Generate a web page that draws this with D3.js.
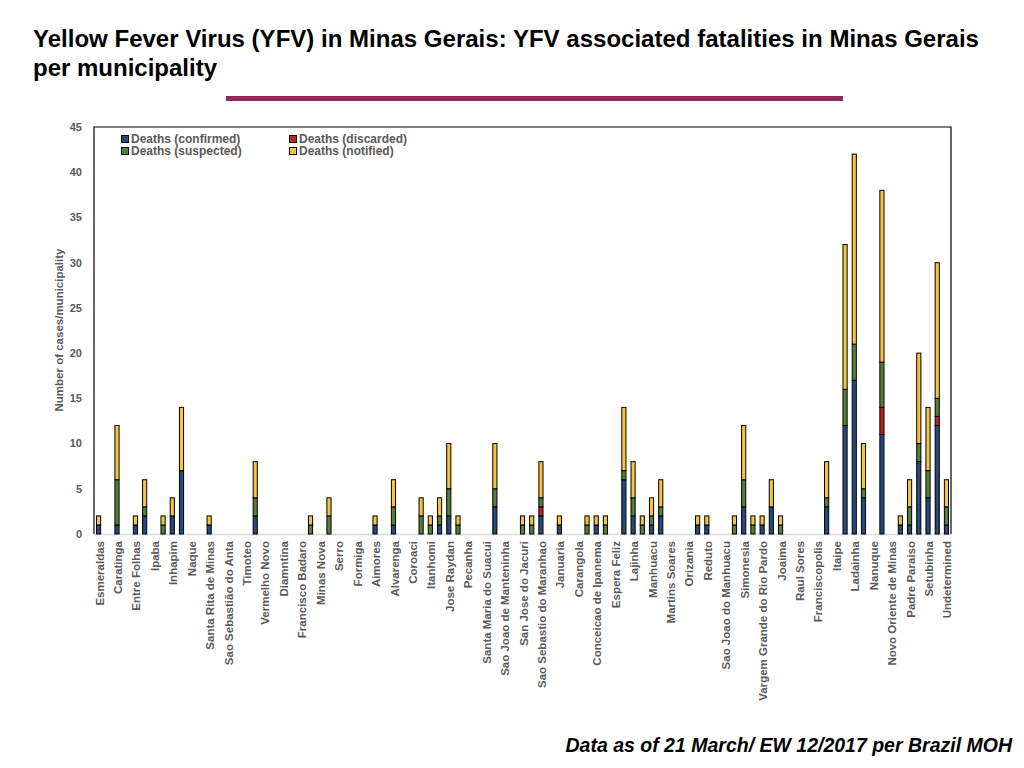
<!DOCTYPE html>
<meta charset="utf-8">

<style>

* {
	margin: 0;
	padding: 0;
}

body {
	background: #fff;
	font-family: "Liberation Sans", Arial, sans-serif;
}

.title {
	font-size: 24px;
	font-weight: bold;
	fill: #000;
}

.footer {
	font-size: 19.5px;
	font-weight: bold;
	font-style: italic;
	fill: #000;
}

.tick-label, .cat-label, .legend-text, .axis-title {
	font-weight: bold;
	fill: #595959;
}

.tick-label { font-size: 11px; }
.cat-label { font-size: 11.5px; }
.legend-text { font-size: 12px; }
.axis-title { font-size: 11.5px; }

.seg {
	stroke: #000;
	stroke-width: 1;
}

</style>

<body>

<script src="https://cdn.jsdelivr.net/npm/d3@7"></script>

<script>

// municipality names, only every other one is labelled on the axis
var categories = [
	"Esmeraldas", "", "Caratinga", "", "Entre Folhas", "", "Ipaba", "", "Inhapim", "",
	"Naque", "", "Santa Rita de Minas", "", "Sao Sebastião do Anta", "", "Timoteo", "", "Vermelho Novo", "",
	"Diamntina", "", "Francisco Badaro", "", "Minas Nova", "", "Serro", "", "Formiga", "",
	"Aimores", "", "Alvarenga", "", "Coroaci", "", "Itanhomi", "", "Jose Raydan", "",
	"Pecanha", "", "Santa Maria do Suacui", "", "Sao Joao de Manteninha", "", "San Jose do Jacuri", "", "Sao Sebastio do Maranhao", "",
	"Januaria", "", "Carangola", "", "Conceicao de Ipanema", "", "Espera Feliz", "", "Lajinha", "",
	"Manhuacu", "", "Martins Soares", "", "Orizania", "", "Reduto", "", "Sao Joao do Manhuacu", "",
	"Simonesia", "", "Vargem Grande do Rio Pardo", "", "Joaima", "", "Raul Sores", "", "Franciscopolis", "",
	"Itaipe", "", "Ladainha", "", "Nanuque", "", "Novo Oriente de Minas", "", "Padre Paraiso", "",
	"Setubinha", "", "Undetermined"
];

var confirmed = [
	1, 0, 1, 0, 1, 2, 0, 0, 2, 7,
	0, 0, 1, 0, 0, 0, 0, 2, 0, 0,
	0, 0, 0, 0, 0, 0, 0, 0, 0, 0,
	1, 0, 1, 0, 0, 0, 0, 1, 2, 0,
	0, 0, 0, 3, 0, 0, 0, 0, 2, 0,
	1, 0, 0, 0, 1, 0, 0, 6, 2, 0,
	1, 2, 0, 0, 0, 1, 1, 0, 0, 0,
	3, 0, 1, 3, 0, 0, 0, 0, 0, 3,
	0, 12, 17, 4, 0, 11, 0, 1, 1, 8,
	4, 12, 1
];

var discarded = [
	0, 0, 0, 0, 0, 0, 0, 0, 0, 0,
	0, 0, 0, 0, 0, 0, 0, 0, 0, 0,
	0, 0, 0, 0, 0, 0, 0, 0, 0, 0,
	0, 0, 0, 0, 0, 0, 0, 0, 0, 0,
	0, 0, 0, 0, 0, 0, 0, 0, 1, 0,
	0, 0, 0, 0, 0, 0, 0, 0, 0, 0,
	0, 0, 0, 0, 0, 0, 0, 0, 0, 0,
	0, 0, 0, 0, 0, 0, 0, 0, 0, 0,
	0, 0, 0, 0, 0, 3, 0, 0, 0, 0,
	0, 1, 0
];

var suspected = [
	0, 0, 5, 0, 0, 1, 0, 1, 0, 0,
	0, 0, 0, 0, 0, 0, 0, 2, 0, 0,
	0, 0, 0, 1, 0, 2, 0, 0, 0, 0,
	0, 0, 2, 0, 0, 2, 1, 1, 3, 1,
	0, 0, 0, 2, 0, 0, 1, 1, 1, 0,
	0, 0, 0, 1, 0, 1, 0, 1, 2, 1,
	1, 1, 0, 0, 0, 0, 0, 0, 0, 1,
	3, 1, 0, 0, 1, 0, 0, 0, 0, 1,
	0, 4, 4, 1, 0, 5, 0, 0, 2, 2,
	3, 2, 2
];

var notified = [
	1, 0, 6, 0, 1, 3, 0, 1, 2, 7,
	0, 0, 1, 0, 0, 0, 0, 4, 0, 0,
	0, 0, 0, 1, 0, 2, 0, 0, 0, 0,
	1, 0, 3, 0, 0, 2, 1, 2, 5, 1,
	0, 0, 0, 5, 0, 0, 1, 1, 4, 0,
	1, 0, 0, 1, 1, 1, 0, 7, 4, 1,
	2, 3, 0, 0, 0, 1, 1, 0, 0, 1,
	6, 1, 1, 3, 1, 0, 0, 0, 0, 4,
	0, 16, 21, 5, 0, 19, 0, 1, 3, 10,
	7, 15, 3
];

var seriesNames = ["Deaths (confirmed)", "Deaths (discarded)", "Deaths (suspected)", "Deaths (notified)"];
var seriesColors = ["#254a7b", "#c1231c", "#567f37", "#f6c444"];
var yTicks = [0, 5, 10, 15, 20, 25, 30, 35, 40, 45];

var width = 1024,
    height = 768,
    plotLeft = 94,
    plotRight = 951,
    plotTop = 127,
    plotBottom = 534;

var svg = d3.select("body").append("svg")
    .attr("width", width)
    .attr("height", height);

// title + divider + footer
svg.append("text")
    .attr("class", "title")
    .attr("x", 33)
    .attr("y", 47)
    .attr("textLength", 946)
    .attr("lengthAdjust", "spacingAndGlyphs")
    .text("Yellow Fever Virus (YFV) in Minas Gerais: YFV associated fatalities in Minas Gerais");

svg.append("text")
    .attr("class", "title")
    .attr("x", 33)
    .attr("y", 76)
    .text("per municipality");

svg.append("rect")
    .attr("x", 226)
    .attr("y", 96)
    .attr("width", 617)
    .attr("height", 5)
    .attr("fill", "#8f2a59");

svg.append("text")
    .attr("class", "footer")
    .attr("x", 1012)
    .attr("y", 752)
    .attr("text-anchor", "end")
    .text("Data as of 21 March/ EW 12/2017 per Brazil MOH");

var x = d3.scaleBand()
    .domain(d3.range(categories.length))
    .range([plotLeft, plotRight])
    .paddingInner(0.55)
    .paddingOuter(0.27);

var y = d3.scaleLinear()
    .domain([0, 45])
    .range([plotBottom, plotTop]);

// build stacked rows
var rows = categories.map(function(c, i) {
	return { i: i, confirmed: confirmed[i], discarded: discarded[i], suspected: suspected[i], notified: notified[i] };
});

var stack = d3.stack().keys(["confirmed", "discarded", "suspected", "notified"]);
var layers = stack(rows);

// frame
svg.append("path")
    .attr("d", "M" + plotLeft + "," + plotBottom + "V" + plotTop + "H" + plotRight + "V" + plotBottom)
    .attr("fill", "none")
    .attr("stroke", "#000")
    .attr("stroke-width", 1.2);

svg.append("line")
    .attr("x1", plotLeft)
    .attr("x2", plotRight)
    .attr("y1", plotBottom + 0.5)
    .attr("y2", plotBottom + 0.5)
    .attr("stroke", "#d9d9d9")
    .attr("stroke-width", 1.5);

// bars
layers.forEach(function(layer, k) {
	svg.append("g").selectAll("rect")
	    .data(layer.filter(function(d) { return d[1] > d[0]; }))
	    .enter().append("rect")
	    .attr("class", "seg")
	    .attr("fill", seriesColors[k])
	    .attr("x", function(d) { return x(d.data.i); })
	    .attr("y", function(d) { return y(d[1]); })
	    .attr("width", x.bandwidth())
	    .attr("height", function(d) { return y(d[0]) - y(d[1]); });
});

// y tick labels
svg.append("g").selectAll("text")
    .data(yTicks)
    .enter().append("text")
    .attr("class", "tick-label")
    .attr("x", 82)
    .attr("y", function(d) { return y(d); })
    .attr("dy", "0.35em")
    .attr("text-anchor", "end")
    .text(function(d) { return d; });

svg.append("text")
    .attr("class", "axis-title")
    .attr("transform", "translate(63," + 330 + ") rotate(-90)")
    .attr("text-anchor", "middle")
    .text("Number of cases/municipality");

// category labels
svg.append("g").selectAll("text")
    .data(categories.map(function(c, i) { return { name: c, i: i }; }).filter(function(d) { return d.name; }))
    .enter().append("text")
    .attr("class", "cat-label")
    .attr("text-anchor", "end")
    .attr("dy", "0.35em")
    .attr("transform", function(d) {
    	return "translate(" + (x(d.i) + x.bandwidth() / 2 + 1) + ",541) rotate(-90)";
    })
    .text(function(d) { return d.name; });

// legend
var legendPos = [[125, 139], [293, 139], [125, 151], [293, 151]];

seriesNames.forEach(function(name, k) {
	var p = legendPos[k];
	svg.append("rect")
	    .attr("x", p[0] - 3.5)
	    .attr("y", p[1] - 3.5)
	    .attr("width", 7)
	    .attr("height", 7)
	    .attr("fill", seriesColors[k])
	    .attr("stroke", "#000")
	    .attr("stroke-width", 1);
	svg.append("text")
	    .attr("class", "legend-text")
	    .attr("x", p[0] + 6)
	    .attr("y", p[1])
	    .attr("dy", "0.35em")
	    .text(name);
});

</script>
